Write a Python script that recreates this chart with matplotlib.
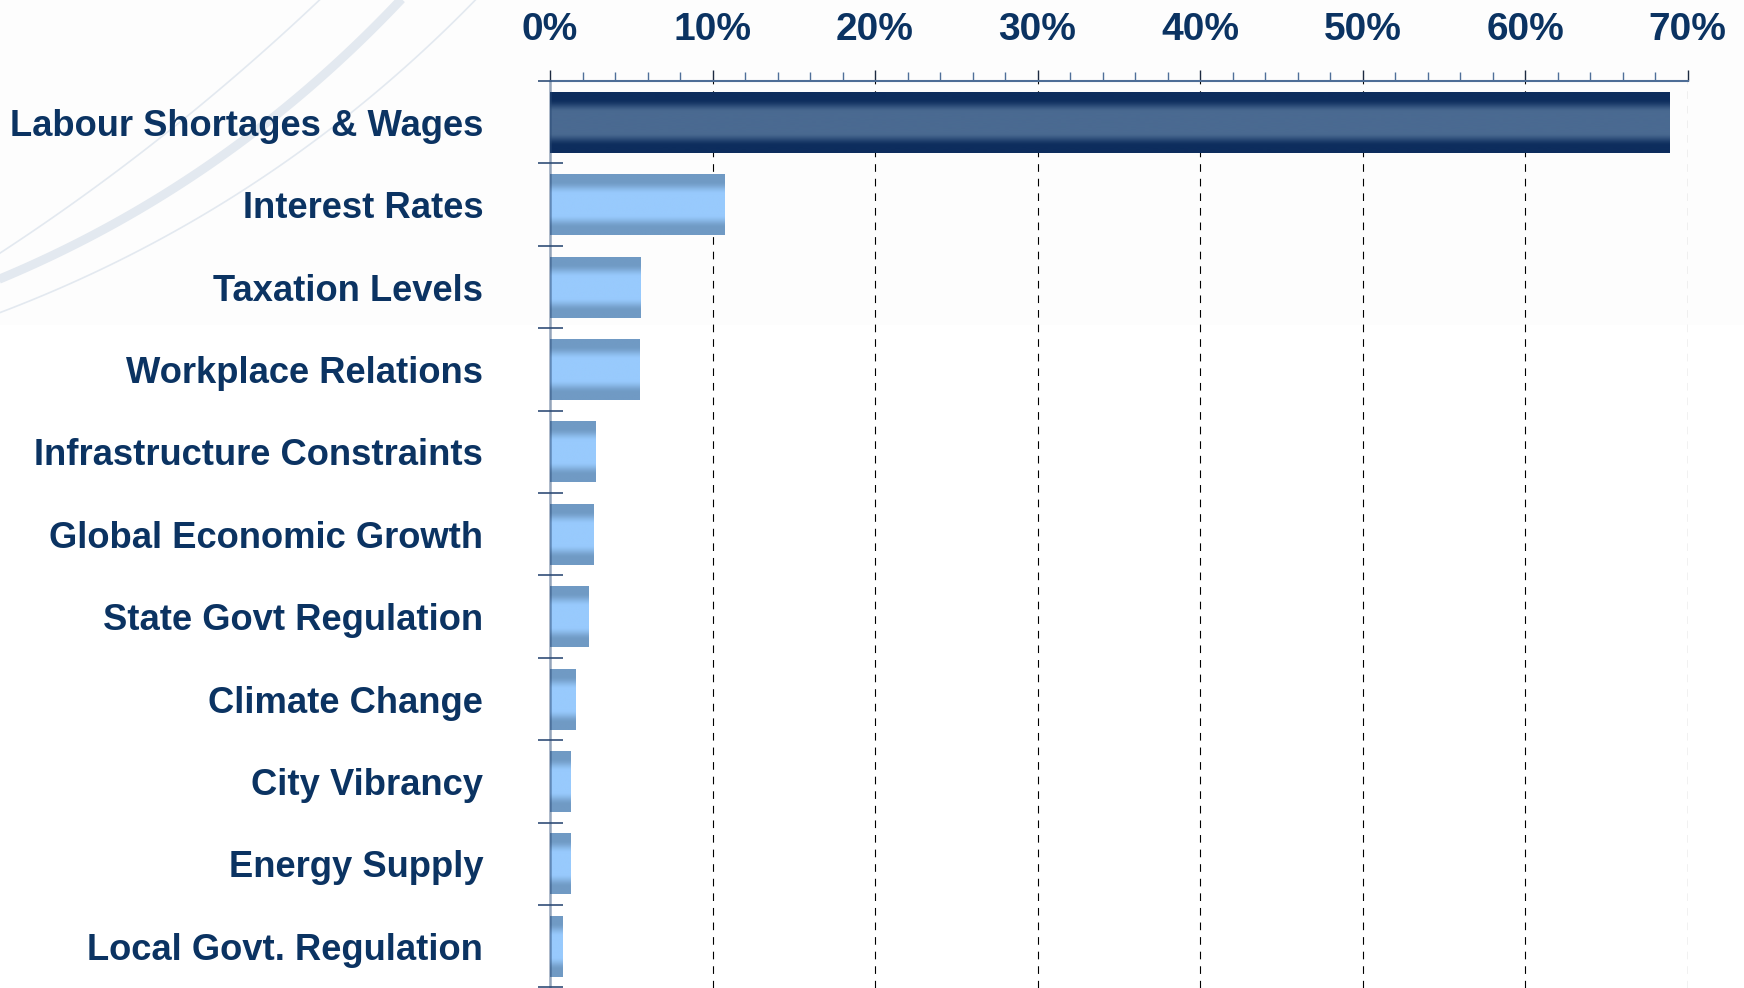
import numpy as np
import matplotlib
matplotlib.use("Agg")
import matplotlib.pyplot as plt
from matplotlib.patches import Rectangle
from matplotlib.colors import to_rgb

plt.rcParams['font.family'] = ['Liberation Sans', 'DejaVu Sans']
plt.rcParams['font.weight'] = 'bold'
plt.rcParams['lines.scale_dashes'] = False

# data, top to bottom
categories = ['Labour Shortages & Wages', 'Interest Rates', 'Taxation Levels',
              'Workplace Relations', 'Infrastructure Constraints',
              'Global Economic Growth', 'State Govt Regulation', 'Climate Change',
              'City Vibrancy', 'Energy Supply', 'Local Govt. Regulation']
shares = [0.689, 0.1075, 0.056, 0.055, 0.028, 0.0265, 0.024, 0.0155,
          0.0129, 0.0129, 0.008]
tick_vals = [0.0, 0.1, 0.2, 0.3, 0.4, 0.5, 0.6, 0.7]

navy = '#0b3362'

fig = plt.figure(figsize=(17.44, 9.88), dpi=100)

# background decoration (pixel coords)
bg = fig.add_axes([0, 0, 1, 1], zorder=0)
bg.set_xlim(0, 1744)
bg.set_ylim(988, 0)
bg.axis('off')
bg.add_patch(Rectangle((0, 0), 1744, 325, color='#fdfdfd', lw=0))


def bez(p0, p1, p2, n=100):
    t = np.linspace(0, 1, n)[:, None]
    p0, p1, p2 = map(np.asarray, (p0, p1, p2))
    return (1 - t) ** 2 * p0 + 2 * (1 - t) * t * p1 + t ** 2 * p2


for p0, p1, p2, lw in [((-20, 266), (165, 148), (330, -10), 1.2),
                       ((-20, 287), (225, 190), (410, -10), 6.5),
                       ((-20, 320), (270, 215), (485, -10), 1.2)]:
    pts = bez(p0, p1, p2)
    bg.plot(pts[:, 0], pts[:, 1], color='#e3e9f0', lw=lw, solid_capstyle='butt')

# main axes
ax = fig.add_axes([550 / 1744, 0.5 / 988, 1137.5 / 1744, 906.5 / 988], zorder=1)
ax.patch.set_alpha(0)

y = np.arange(len(categories))
bars = ax.barh(y, shares, height=0.74, color='none', lw=0)


def grad_img(edge, center, n=300):
    t = np.linspace(0, 1, n)
    v = np.abs(t - 0.5) * 2
    s = np.clip((v - 0.34) / 0.42, 0, 1)
    s = s * s * (3 - 2 * s)
    e = np.array(to_rgb(edge))
    c = np.array(to_rgb(center))
    col = c[None, :] * (1 - s[:, None]) + e[None, :] * s[:, None]
    return col[:, None, :]


dark = grad_img('#0d2d5d', '#4a6a91')
light = grad_img('#709ac4', '#98cafd')
for i, b in enumerate(bars):
    x0, y0 = b.get_x(), b.get_y()
    w, h = b.get_width(), b.get_height()
    img = dark if i == 0 else light
    ax.imshow(img, extent=(x0, x0 + w, y0 + h, y0), aspect='auto',
              interpolation='bilinear', zorder=2)

ax.set_xlim(0, 0.7)
ax.set_ylim(len(categories) - 0.5, -0.5)

# x axis on top
ax.xaxis.tick_top()
ax.set_xticks(tick_vals)
ax.set_xticklabels([f'{int(round(v * 100))}%' for v in tick_vals])
ax.set_xticks(np.arange(0, 0.7001, 0.02), minor=True)
ax.tick_params(axis='x', which='major', direction='out', length=8, width=1,
               color='#1c2a40', pad=16, labelsize=28, labelcolor=navy)
ax.tick_params(axis='x', which='minor', direction='out', length=6.5, width=1,
               color='#4f6f99')
ax.grid(axis='x', which='major', color='black', lw=0.8, linestyle=(0, (5.5, 5)))
ax.xaxis.get_gridlines()[0].set_visible(False)

# y axis
ax.set_yticks(y)
ax.set_yticklabels(categories)
ax.set_yticks(np.arange(len(categories) + 1) - 0.5, minor=True)
ax.tick_params(axis='y', which='major', length=0, pad=48, labelsize=26.2,
               labelcolor=navy)
ax.tick_params(axis='y', which='minor', direction='inout', length=18,
               width=1.1, color='#1f3f6c')

for s in ['right', 'bottom']:
    ax.spines[s].set_visible(False)
ax.spines['top'].set_color('#4d6d96')
ax.spines['top'].set_linewidth(1.5)
ax.spines['left'].set_color('#2a4a75')
ax.spines['left'].set_alpha(0.5)
ax.spines['left'].set_linewidth(1.8)
ax.spines['left'].set_zorder(3)

fig.savefig('out.png', dpi=100)
